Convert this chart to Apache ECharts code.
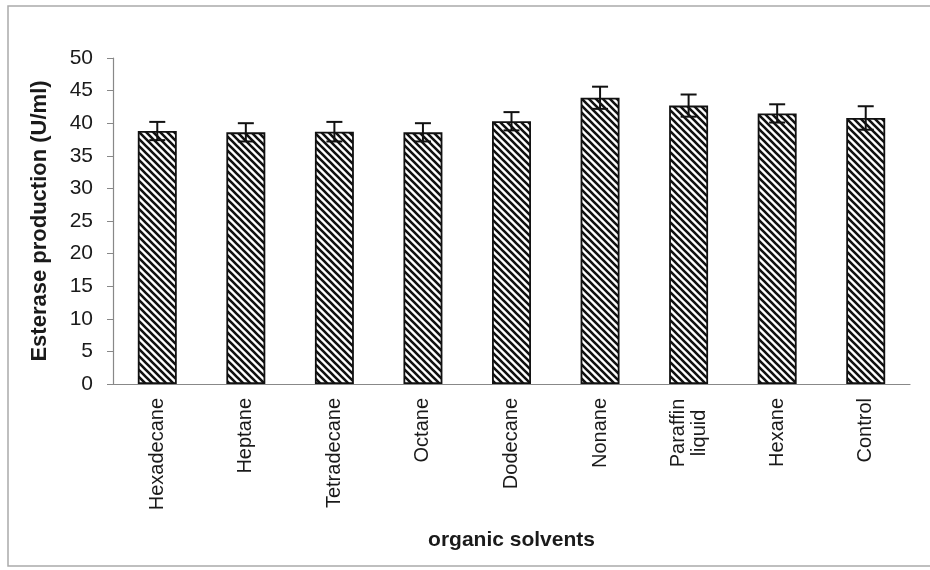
<!DOCTYPE html>
<html>
<head>
    <meta charset="utf-8">
    <title>Esterase production</title>
    <script src="https://cdn.jsdelivr.net/npm/echarts@6/dist/echarts.min.js"></script>
    <style>
        html, body { margin: 0; padding: 0; background: #fff; }
        #chart { width: 930px; height: 570px; }
    </style>
</head>
<body>
<div id="chart"></div>
<script type="text/javascript">
    // data
    var solvents = ['Hexadecane', 'Heptane', 'Tetradecane', 'Octane', 'Dodecane', 'Nonane', 'Paraffin\nliquid', 'Hexane', 'Control'];
    var production = [38.8, 38.6, 38.7, 38.6, 40.3, 43.9, 42.7, 41.5, 40.8];
    var errors = [1.4, 1.4, 1.5, 1.4, 1.4, 1.7, 1.7, 1.4, 1.8];
    var yTicks = [0, 50, 5];   // min, max, step

    // hatch pattern "\\\\" black on white
    function makeHatch() {
        var s = 7;
        var c = document.createElement('canvas');
        c.width = s; c.height = s;
        var g = c.getContext('2d');
        g.fillStyle = '#fff';
        g.fillRect(0, 0, s, s);
        g.strokeStyle = '#111';
        g.lineWidth = 2.6;
        g.beginPath();
        g.moveTo(-s, 0); g.lineTo(s, 2 * s);
        g.moveTo(0, 0); g.lineTo(s, s);
        g.moveTo(0, -s); g.lineTo(2 * s, s);
        g.stroke();
        return c;
    }

    // two-line label: centre the lines on each other like the original
    var categoryData = solvents.map(function (name) {
        if (name.indexOf('\n') < 0) return name;
        return { value: name, textStyle: { align: 'center', padding: [0, 70, 0, 0] } };
    });

    var errData = production.map(function (v, i) { return [i, v - errors[i], v + errors[i]]; });

    var myChart = echarts.init(document.getElementById('chart'));
    var font = 'Liberation Sans, Arial, sans-serif';
    myChart.setOption({
        animation: false,
        backgroundColor: '#fff',
        graphic: [{
            type: 'rect',
            shape: { x: 8, y: 6, width: 930, height: 560 },
            style: { fill: 'none', stroke: '#aaa', lineWidth: 1.5 },
            silent: true
        }],
        grid: { left: 113, right: 20, top: 58, bottom: 186 },
        xAxis: {
            type: 'category',
            data: categoryData,
            name: 'organic solvents',
            nameLocation: 'middle',
            nameGap: 146,
            nameTextStyle: { fontFamily: font, fontSize: 21, fontWeight: 'bold', color: '#1a1a1a' },
            axisLine: { lineStyle: { color: '#888', width: 1.2 } },
            axisTick: { length: 5, lineStyle: { color: '#888' } },
            axisLabel: { interval: 0, rotate: 90, margin: 14, fontFamily: font, fontSize: 20, color: '#1a1a1a', lineHeight: 21 }
        },
        yAxis: {
            type: 'value',
            min: yTicks[0],
            max: yTicks[1],
            interval: yTicks[2],
            name: 'Esterase production (U/ml)',
            nameLocation: 'middle',
            nameGap: 62,
            nameTextStyle: { fontFamily: font, fontSize: 22, fontWeight: 'bold', color: '#1a1a1a' },
            axisLine: { show: true, lineStyle: { color: '#888', width: 1.2 } },
            axisTick: { show: true, length: 6, lineStyle: { color: '#888' } },
            splitLine: { show: false },
            axisLabel: { margin: 20, fontFamily: font, fontSize: 21, color: '#1a1a1a' }
        },
        series: [
            {
                name: 'production',
                type: 'bar',
                data: production,
                barWidth: '44%',
                itemStyle: {
                    color: { image: makeHatch(), repeat: 'repeat' },
                    borderColor: '#111',
                    borderWidth: 1.8
                }
            },
            {
                name: 'error',
                type: 'custom',
                data: errData,
                z: 10,
                renderItem: function (params, api) {
                    var lo = api.coord([api.value(0), api.value(1)]);
                    var hi = api.coord([api.value(0), api.value(2)]);
                    var w = 8;
                    var st = { stroke: '#111', lineWidth: 2 };
                    return {
                        type: 'group',
                        children: [
                            { type: 'line', shape: { x1: hi[0], y1: hi[1], x2: lo[0], y2: lo[1] }, style: st },
                            { type: 'line', shape: { x1: hi[0] - w, y1: hi[1], x2: hi[0] + w, y2: hi[1] }, style: st },
                            { type: 'line', shape: { x1: lo[0] - w, y1: lo[1], x2: lo[0] + w, y2: lo[1] }, style: st }
                        ]
                    };
                }
            }
        ]
    });
</script>
</body>
</html>
